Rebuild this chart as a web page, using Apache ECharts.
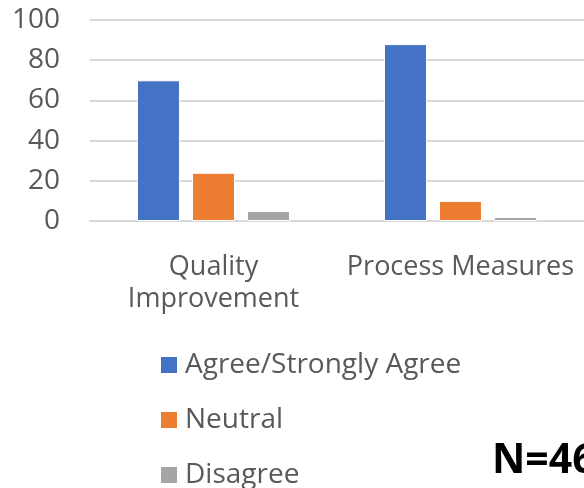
<!DOCTYPE html>
<html>
<head>
<meta charset="utf-8">
<script src="https://cdn.jsdelivr.net/npm/echarts@6/dist/echarts.min.js"></script>
<style>html,body{margin:0;padding:0;background:#fff;}#c{width:584px;height:488px;}</style>
</head>
<body>
<div id="c"></div>
<script>
const categories = ['Quality\nImprovement', 'Process Measures'];
const seriesNames = ['Agree/Strongly Agree', 'Neutral', 'Disagree'];
const agree = [70, 88];
const neutral = [24, 10];
const disagree = [5, 2];
const yTicks = [0, 20, 40, 60, 80, 100];
const noteText = 'N=46';

const colors = ['#4472C4', '#ED7D31', '#A5A5A5'];
const font = 'Open Sans';
const chart = echarts.init(document.getElementById('c'), null, {renderer: 'canvas'});
const values = [agree, neutral, disagree];
chart.setOption({
  animation: false,
  color: colors,
  grid: {left: 90, right: -2, top: 20, bottom: 267, containLabel: false},
  xAxis: {
    type: 'category',
    data: categories,
    axisLine: {show: true, lineStyle: {color: '#D9D9D9', width: 2}},
    axisTick: {show: false},
    axisLabel: {color: '#595959', fontFamily: font, fontSize: 27, lineHeight: 32, margin: 30, interval: 0}
  },
  yAxis: {
    type: 'value',
    min: yTicks[0],
    max: yTicks[yTicks.length - 1],
    interval: yTicks[1] - yTicks[0],
    axisLine: {show: false},
    axisTick: {show: false},
    splitLine: {lineStyle: {color: '#D9D9D9', width: 2}},
    axisLabel: {color: '#595959', fontFamily: font, fontSize: 28, margin: 30}
  },
  legend: {
    orient: 'vertical',
    left: 154,
    top: 345,
    height: 200,
    icon: 'rect',
    itemWidth: 18,
    itemHeight: 18,
    itemGap: 25,
    textStyle: {color: '#595959', fontFamily: font, fontSize: 28, lineHeight: 30, padding: [0, 0, 0, 2]},
    data: seriesNames
  },
  graphic: [{
    type: 'text',
    left: 492,
    top: 441,
    style: {text: noteText, fill: '#000', fontFamily: font, fontWeight: 'bold', fontSize: 41}
  }],
  series: seriesNames.map((n, i) => ({
    name: n,
    type: 'bar',
    data: values[i],
    barWidth: 43,
    barGap: '28%',
    itemStyle: {borderColor: '#fff', borderWidth: 1}
  }))
});
</script>
</body>
</html>
